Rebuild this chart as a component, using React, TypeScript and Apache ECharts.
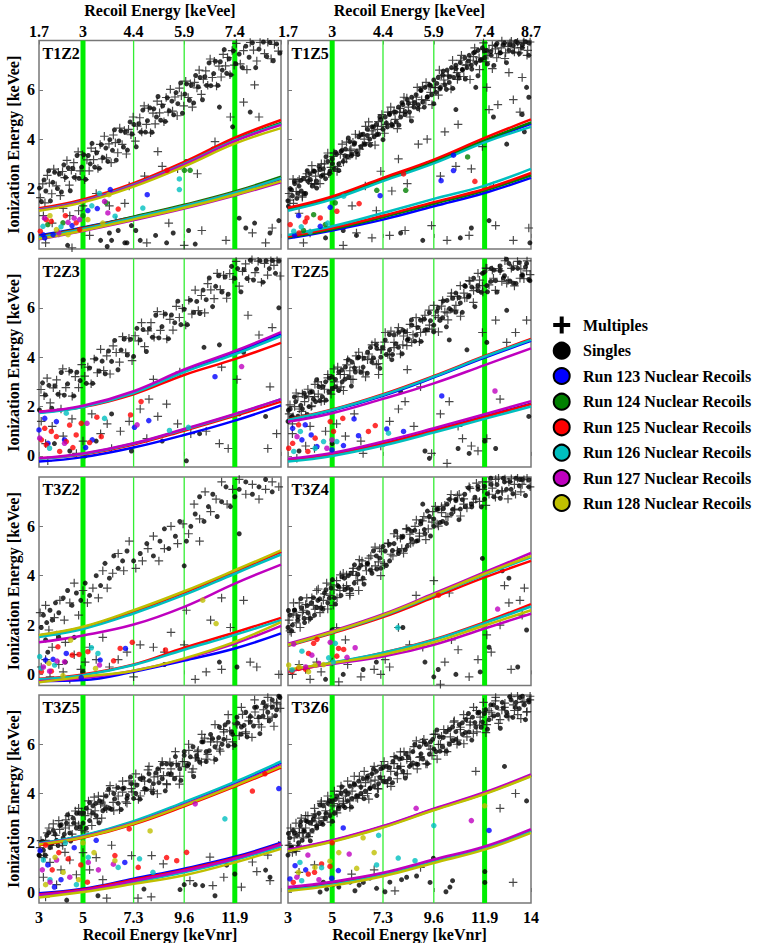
import React, { useEffect, useRef } from "react";
import * as echarts from "echarts";

// ---------- axes / categories ----------
const panelNames = ["T1Z2", "T1Z5", "T2Z3", "T2Z5", "T3Z2", "T3Z4", "T3Z5", "T3Z6"];
const nrTicks = [3, 5, 7.3, 9.6, 11.9, 14];
const eeTickLabels = ["1.7", "3", "4.4", "5.9", "7.4", "8.7"];
const yTicks = [0, 2, 4, 6];
const thickGreenX = [5, 11.9];
const thinGreenX = [7.3, 9.6];
const bandX = [3, 5, 7.3, 9.6, 11.9, 14];
const runs = [123, 124, 125, 126, 127, 128];
const runColors = ["#0000ff", "#008000", "#ff0000", "#00bfbf", "#bf00bf", "#bfbf00"];

// ---------- T1Z2 ----------
const singles_T1Z2 = [[3.02,2.02],[3.11,1.47],[3.23,2.35],[3.31,1.9],[3.44,2.72],[3.52,1.5],[3.63,2.25],[3.71,2.66],[3.84,2.0],[3.93,2.59],[4.02,1.86],[4.13,2.96],[4.21,2.45],[4.33,2.84],[4.42,1.91],[4.54,2.82],[4.61,2.45],[4.73,3.34],[4.82,2.41],[4.94,2.87],[5.03,3.37],[5.12,2.37],[5.24,3.34],[5.33,3.0],[5.41,3.83],[5.53,2.87],[5.62,3.45],[5.74,2.82],[5.83,3.78],[5.91,3.25],[6.04,3.64],[6.13,3.1],[6.22,3.98],[6.34,3.55],[6.43,4.38],[6.51,3.15],[6.63,3.93],[6.72,4.34],[6.84,3.68],[6.93,4.28],[7.02,3.56],[7.14,4.7],[7.23,4.21],[7.31,4.6],[7.42,3.69],[7.54,4.63],[7.63,4.29],[7.72,5.18],[7.84,4.29],[7.93,4.75],[8.04,5.27],[8.13,4.28],[8.22,5.23],[8.34,4.9],[8.41,5.73],[8.53,4.77],[8.62,5.35],[8.74,4.72],[8.83,5.68],[8.92,5.15],[9.04,5.54],[9.12,4.99],[9.23,5.89],[9.31,5.44],[9.44,6.28],[9.52,5.05],[9.63,5.83],[9.71,6.24],[9.84,5.58],[9.93,6.18],[10.03,5.47],[10.12,6.58],[10.24,6.12],[10.32,6.5],[10.43,5.6],[10.54,6.53],[10.62,6.18],[10.73,7.09],[10.81,6.17],[10.94,6.66],[11.02,7.16],[11.13,6.18],[11.24,7.14],[11.33,6.8],[11.42,7.63],[11.53,6.67],[11.64,7.26],[11.72,6.61],[11.83,7.58],[11.94,7.06],[12.1,7.45],[12.25,6.9],[12.4,7.77],[12.55,7.32],[12.7,7.91],[12.85,6.9],[13.0,7.65],[13.2,7.94],[13.35,7.35],[13.5,7.92],[13.65,7.18],[13.8,7.86],[13.95,7.49],[7.0,-0.2],[7.4,0.3],[7.6,-0.1],[7.2,0.5],[8.3,0.1],[8.8,-0.2],[9.1,0.2],[9.8,0.3],[10.1,-0.25],[12.1,0.8],[12.4,0.4],[12.8,0.6],[13.5,0.2],[13.9,0.7],[5.8,-0.1],[6.2,0.2],[4.3,-0.3],[3.4,0.1],[11.2,5.3],[11.8,4.5],[12.6,5.1],[10.9,3.6],[9.7,3.1],[6.6,0.3],[6.1,-0.35],[6.9,-0.2],[6.3,-0.1]];
const multiples_T1Z2 = [[3.06,1.63],[3.17,2.19],[3.27,1.42],[3.38,2.53],[3.47,2.22],[3.58,1.79],[3.67,2.79],[3.78,2.11],[3.88,2.66],[3.97,1.71],[4.07,2.69],[4.17,2.44],[4.27,3.14],[4.38,2.14],[4.47,2.74],[4.58,3.05],[4.67,2.46],[4.78,3.49],[4.87,2.72],[4.98,3.37],[5.07,2.36],[5.18,3.16],[5.28,2.72],[5.37,3.64],[5.48,3.17],[5.57,3.51],[5.68,2.81],[5.78,3.79],[5.87,3.2],[5.97,4.12],[6.07,3.24],[6.18,3.81],[6.28,3.05],[6.38,4.17],[6.47,3.86],[6.58,3.45],[6.67,4.45],[6.78,3.79],[6.88,4.35],[6.97,3.4],[7.07,4.4],[7.18,4.18],[7.28,4.9],[7.38,3.92],[7.47,4.53],[7.58,4.87],[7.67,4.29],[7.78,5.35],[7.88,4.6],[7.97,5.26],[8.07,4.26],[8.18,5.06],[8.28,4.62],[8.37,5.54],[8.48,5.07],[8.57,5.41],[8.68,4.71],[8.78,5.69],[8.87,5.1],[8.97,6.02],[9.07,5.14],[9.18,5.71],[9.28,4.95],[9.38,6.07],[9.47,5.76],[9.58,5.35],[9.67,6.35],[9.78,5.69],[9.88,6.25],[9.97,5.3],[10.07,6.3],[10.18,6.08],[10.28,6.8],[10.38,5.82],[10.47,6.43],[10.58,6.77],[10.67,6.19],[10.78,7.25],[10.88,6.5],[10.97,7.16],[11.07,6.16],[11.18,6.96],[11.28,6.52],[11.37,7.44],[11.48,6.97],[11.57,7.31],[11.68,6.61],[11.78,7.59],[11.87,7.0],[11.97,7.88],[12.15,7.05],[12.3,7.59],[12.45,6.82],[12.6,7.92],[12.75,7.61],[12.9,7.17],[13.05,7.92],[13.25,7.47],[13.4,7.93],[13.55,7.26],[13.7,7.84],[13.88,7.57],[4.8,1.1],[5.6,1.8],[6.2,1.3],[7.1,2.1],[7.8,2.5],[8.6,2.9],[9.3,2.8],[10.2,2.6],[11.0,3.9],[11.7,4.9],[12.3,5.5],[13.0,4.9],[12.8,6.2],[8.4,3.5],[6.5,0.7],[7.9,-0.2],[8.9,0.6],[10.4,0.3],[11.5,-0.1],[12.7,0.2],[13.3,-0.2],[13.6,0.4],[4.5,-0.4],[5.3,0.1],[9.6,-0.3],[6.9,1.4],[3.2,0.9],[3.6,0.6],[4.1,1.2],[5.0,1.3],[3.3,-0.2],[3.9,0.2],[4.4,0.9]];
const nr_T1Z2 = {
  123: [[6.24,1.96],[5.65,1.19],[5.22,1.11],[7.92,1.75],[3.64,0.13],[3.18,0.13],[3.26,0.0],[4.5,0.5]],
  124: [[9.61,2.74],[9.87,2.74],[6.06,1.42],[3.4,0.54],[4.09,0.61],[5.0,0.9]],
  125: [[6.6,1.17],[8.82,2.74],[3.33,0.74],[3.56,0.67],[4.69,0.61],[4.85,0.34],[3.06,0.27],[4.2,0.9]],
  126: [[9.38,2.39],[9.38,1.96],[7.72,1.21],[6.46,0.88],[5.75,1.8],[3.18,0.47],[4.0,0.45],[5.4,1.3]],
  127: [[5.98,1.48],[6.13,1.01],[3.25,0.8],[4.32,0.63],[4.85,0.74],[4.6,0.8],[3.9,0.2]],
  128: [[6.18,1.75],[3.79,0.34],[4.32,0.13],[5.22,0.74],[3.5,0.9],[5.9,0.6]],
};
const upper_T1Z2 = {
  123: [1.15,1.5,2.15,3.0,3.95,4.62], 124: [1.16,1.52,2.17,3.02,3.98,4.66], 125: [1.2,1.56,2.22,3.08,4.06,4.78],
  126: [1.15,1.5,2.16,3.0,3.95,4.62], 127: [1.13,1.48,2.13,2.97,3.92,4.58], 128: [1.1,1.44,2.08,2.9,3.82,4.45],
};
const lower_T1Z2 = {
  123: [0.1,0.42,0.85,1.3,1.82,2.38], 124: [0.06,0.4,0.86,1.34,1.88,2.48], 125: [0.04,0.38,0.83,1.3,1.84,2.42],
  126: [0.02,0.36,0.82,1.29,1.83,2.42], 127: [-0.06,0.28,0.72,1.19,1.72,2.25], 128: [-0.04,0.3,0.75,1.22,1.75,2.3],
};

// ---------- T1Z5 ----------
const singles_T1Z5 = [[3.0,1.5],[3.1,2.0],[3.2,1.7],[3.3,2.2],[3.4,1.6],[3.5,2.1],[3.6,1.9],[3.7,2.4],[3.8,1.8],[3.9,2.3],[4.0,2.6],[4.1,2.1],[4.2,2.7],[4.3,2.3],[4.4,2.9],[4.5,2.5],[4.6,2.8],[4.7,2.4],[4.8,3.1],[4.9,2.7],[5.0,3.2],[5.1,2.8],[5.2,3.4],[5.3,3.0],[5.4,3.5],[5.5,3.1],[5.6,3.6],[5.7,3.3],[5.8,3.9],[5.9,3.4],[6.0,3.8],[6.1,3.5],[6.2,4.1],[6.3,3.7],[6.4,4.2],[6.5,3.8],[6.6,4.4],[6.7,4.0],[6.8,4.5],[6.9,4.1],[7.0,4.6],[7.1,4.2],[7.2,4.8],[7.3,4.4],[7.4,4.9],[7.5,4.5],[7.6,5.0],[7.7,4.6],[7.8,5.1],[7.9,4.7],[8.0,5.3],[8.1,4.9],[8.2,5.4],[8.3,5.0],[8.4,5.6],[8.5,5.1],[8.6,5.7],[8.7,5.3],[8.8,5.8],[8.9,5.4],[9.0,6.0],[9.1,5.5],[9.2,6.1],[9.3,5.7],[9.4,6.2],[9.5,5.8],[9.6,6.4],[9.7,5.9],[9.8,6.5],[9.9,6.1],[10.0,6.6],[10.1,6.2],[10.2,6.8],[10.3,6.3],[10.4,6.9],[10.5,6.5],[10.6,7.0],[10.7,6.6],[10.8,7.1],[10.9,6.8],[11.0,7.3],[11.1,6.9],[11.2,7.4],[11.3,7.0],[11.4,7.5],[11.5,7.1],[11.6,7.6],[11.7,7.2],[11.8,7.7],[11.9,7.3],[12.0,7.6],[12.2,7.4],[12.4,7.8],[12.6,7.5],[12.8,7.9],[13.0,7.6],[13.2,7.8],[13.4,7.9],[13.6,7.7],[13.9,7.9],[11.5,6.1],[13.9,5.7],[13.6,5.0],[12.3,4.9],[10.6,5.2],[13.7,4.3],[11.3,0.4],[12.1,0.7],[13.95,-0.2],[6.1,0.1],[4.7,0.0],[8.1,0.2],[5.5,0.3],[9.1,-0.1],[10.8,0.0],[13.8,6.1],[12.9,3.8],[9.3,3.0]];
const singles_T1Z5_b = [[3.02,1.28],[3.16,1.94],[3.29,2.3],[3.45,1.81],[3.58,2.33],[3.73,1.8],[3.87,2.72],[4.01,2.37],[4.15,2.71],[4.3,2.02],[4.44,2.78],[4.58,2.55],[4.72,3.29],[4.87,2.6],[5.01,3.01],[5.15,3.47],[5.3,2.73],[5.44,3.55],[5.58,3.33],[5.73,4.05],[5.87,3.33],[6.01,3.85],[6.16,3.38],[6.3,4.18],[6.44,3.8],[6.59,4.15],[6.73,3.76],[6.87,4.5],[7.02,4.19],[7.16,4.91],[7.3,3.98],[7.45,4.66],[7.59,5.04],[7.73,4.55],[7.88,5.1],[8.02,4.57],[8.16,5.48],[8.31,5.12],[8.45,5.45],[8.59,4.74],[8.74,5.49],[8.88,5.24],[9.02,5.97],[9.17,5.3],[9.31,5.72],[9.45,6.18],[9.6,5.44],[9.74,6.26],[9.88,6.04],[10.03,6.76],[10.17,6.02],[10.31,6.53],[10.46,6.06],[10.6,6.86],[10.74,6.48],[10.89,6.83],[11.03,6.44],[11.17,7.17],[11.32,6.84],[11.46,7.53],[11.6,6.57],[11.75,7.22],[11.89,7.58],[12.03,7.05],[12.18,7.55],[12.32,6.99],[12.46,7.88],[12.61,7.5],[12.75,7.82],[12.89,7.1],[13.04,7.83],[13.18,7.54],[13.32,7.96],[13.47,7.47],[13.61,7.82],[13.75,7.95],[13.9,7.4]];
const multiples_T1Z5 = [[3.05,1.8],[3.25,1.4],[3.45,2.3],[3.65,1.7],[3.85,2.6],[4.05,2.2],[4.25,2.5],[4.45,2.2],[4.65,3.0],[4.85,2.6],[5.05,3.3],[5.25,2.9],[5.45,3.8],[5.65,3.2],[5.85,3.6],[6.05,4.2],[6.25,3.6],[6.45,4.0],[6.65,4.7],[6.85,4.2],[7.05,4.4],[7.25,5.0],[7.45,4.6],[7.65,5.3],[7.85,4.8],[8.05,5.1],[8.25,5.7],[8.45,5.3],[8.65,5.5],[8.85,6.1],[9.05,5.6],[9.25,6.3],[9.45,5.9],[9.65,6.1],[9.85,6.8],[10.05,6.4],[10.25,6.6],[10.45,7.2],[10.65,6.7],[10.85,7.4],[11.05,7.0],[11.25,7.2],[11.45,7.7],[11.65,7.3],[11.85,7.9],[12.05,7.4],[12.25,7.8],[12.45,7.3],[12.65,7.7],[12.85,7.5],[13.05,7.9],[13.25,7.7],[13.45,7.5],[13.65,7.9],[13.85,7.6],[10.1,4.3],[10.7,4.6],[9.3,4.0],[12.1,5.2],[12.5,5.4],[13.2,5.6],[13.5,5.1],[12.0,6.1],[13.0,6.7],[13.6,6.5],[11.8,3.7],[10.6,2.9],[9.9,2.5],[8.4,2.2],[7.7,1.9],[7.2,2.7],[6.5,2.1],[4.2,2.2],[3.5,1.0],[8.9,3.8],[11.3,2.8],[12.3,2.1],[6.8,0.0],[7.6,0.1],[8.3,0.3],[9.5,0.5],[10.2,-0.1],[11.2,0.1],[12.4,0.5],[13.9,0.4],[5.5,-0.3],[6.1,0.2],[4.0,0.2],[3.7,-0.2],[13.2,-0.1],[5.9,1.3],[7.0,1.1],[8.0,3.2]];
const multiples_T1Z5_b = [[3.09,1.53],[3.23,2.38],[3.37,1.88],[3.51,2.37],[3.65,1.65],[3.8,2.48],[3.94,2.32],[4.08,2.93],[4.22,2.17],[4.37,2.7],[4.51,3.0],[4.65,2.57],[4.8,3.44],[4.94,2.86],[5.08,3.44],[5.22,2.69],[5.37,3.38],[5.51,3.08],[5.65,3.88],[5.8,3.54],[5.94,3.88],[6.08,3.35],[6.23,4.18],[6.37,3.74],[6.51,4.52],[6.66,3.86],[6.8,4.34],[6.94,3.76],[7.09,4.71],[7.23,4.52],[7.37,4.24],[7.52,5.1],[7.66,4.62],[7.8,5.12],[7.95,4.43],[8.09,5.25],[8.23,5.08],[8.38,5.67],[8.52,4.9],[8.66,5.41],[8.81,5.7],[8.95,5.26],[9.09,6.12],[9.24,5.57],[9.38,6.15],[9.52,5.4],[9.67,6.09],[9.81,5.79],[9.95,6.59],[10.1,6.24],[10.24,6.56],[10.38,6.03],[10.53,6.86],[10.67,6.42],[10.81,7.2],[10.96,6.54],[11.1,7.01],[11.24,6.42],[11.39,7.35],[11.53,7.13],[11.67,6.82],[11.82,7.65],[11.96,7.14],[12.1,7.6],[12.25,6.86],[12.39,7.66],[12.53,7.47],[12.68,7.98],[12.82,7.27],[12.96,7.76],[13.11,7.97],[13.25,7.53],[13.39,7.93],[13.54,7.71],[13.68,7.94],[13.82,7.4],[13.96,7.94]];
const nr_T1Z5 = {
  123: [[4.91,1.24],[7.17,1.71],[10.49,2.73],[10.49,3.35],[9.93,2.32],[3.48,0.9],[4.46,0.47],[3.3,0.1]],
  124: [[7.02,1.93],[8.33,1.93],[11.13,3.28],[5.14,1.42],[4.16,0.94],[4.69,0.54],[3.7,0.3]],
  125: [[6.22,1.39],[5.21,1.08],[8.23,2.59],[11.46,2.29],[3.86,0.81],[3.78,0.65],[3.1,0.54],[4.46,0.81],[3.5,0.2]],
  126: [[5.52,1.69],[3.26,0.27],[4.0,0.24],[3.6,0.45],[4.8,0.6]],
};
const upper_T1Z5 = {
  123: [1.14,1.6,2.34,3.06,3.92,4.62], 124: [1.17,1.63,2.37,3.1,3.96,4.68],
  125: [1.22,1.68,2.43,3.17,4.05,4.8], 126: [1.1,1.56,2.3,3.02,3.87,4.5],
};
const lower_T1Z5 = {
  123: [-0.02,0.3,0.74,1.28,1.82,2.43], 124: [0.02,0.35,0.84,1.38,1.92,2.54],
  125: [0.06,0.4,0.9,1.45,1.98,2.63], 126: [0.12,0.47,1.01,1.58,2.12,2.8],
};

// ---------- T2Z3 ----------
const singles_T2Z3 = [[3.02,1.86],[3.16,2.96],[3.29,2.47],[3.45,2.86],[3.58,1.93],[3.73,2.84],[3.87,2.5],[4.01,3.38],[4.15,2.46],[4.3,2.92],[4.44,3.43],[4.58,2.43],[4.72,3.39],[4.87,3.05],[5.01,3.89],[5.15,2.94],[5.3,3.56],[5.44,2.94],[5.58,3.93],[5.73,3.44],[5.87,3.84],[6.01,3.33],[6.16,4.25],[6.3,3.83],[6.44,4.68],[6.59,3.49],[6.73,4.29],[6.87,4.73],[7.02,4.09],[7.16,4.72],[7.3,4.03],[7.45,5.17],[7.59,4.7],[7.73,5.12],[7.88,4.23],[8.02,5.16],[8.16,4.81],[8.31,5.7],[8.45,4.78],[8.59,5.24],[8.74,5.75],[8.88,4.75],[9.02,5.71],[9.17,5.4],[9.31,6.27],[9.45,5.32],[9.6,5.94],[9.74,5.32],[9.88,6.31],[10.03,5.82],[10.17,6.26],[10.31,5.77],[10.46,6.72],[10.6,6.33],[10.74,7.21],[10.89,6.05],[11.03,6.87],[11.17,7.3],[11.32,6.64],[11.46,7.25],[11.6,6.55],[11.75,7.68],[11.89,7.2],[12.03,7.59],[12.18,6.65],[12.32,7.55],[12.46,7.19],[12.61,7.93],[12.75,7.13],[12.89,7.57],[13.04,7.91],[13.18,7.04],[13.32,7.91],[13.47,7.59],[13.61,7.92],[13.75,7.4],[13.9,7.9],[3.7,0.5],[4.4,0.2],[5.1,0.0],[5.6,0.6],[6.3,1.7],[9.7,-0.2],[10.3,0.9],[13.3,1.6],[13.9,6.0],[12.3,4.2],[11.2,4.5],[10.5,4.4],[7.2,0.2],[8.6,0.6],[12.1,1.7]];
const multiples_T2Z3 = [[3.09,2.69],[3.23,2.44],[3.37,3.15],[3.51,2.15],[3.65,2.76],[3.8,3.08],[3.94,2.5],[4.08,3.53],[4.22,2.77],[4.37,3.43],[4.51,2.42],[4.65,3.21],[4.8,2.77],[4.94,3.7],[5.08,3.23],[5.22,3.6],[5.37,2.92],[5.51,3.93],[5.65,3.37],[5.8,4.32],[5.94,3.46],[6.08,4.05],[6.23,3.32],[6.37,4.46],[6.51,4.19],[6.66,3.8],[6.8,4.83],[6.94,4.18],[7.09,4.77],[7.23,3.86],[7.37,4.87],[7.52,4.66],[7.66,5.4],[7.8,4.43],[7.95,5.07],[8.09,5.4],[8.23,4.81],[8.38,5.85],[8.52,5.09],[8.66,5.74],[8.81,4.74],[8.95,5.53],[9.09,5.1],[9.24,6.06],[9.38,5.61],[9.52,5.98],[9.67,5.3],[9.81,6.31],[9.95,5.75],[10.1,6.72],[10.24,5.89],[10.38,6.5],[10.53,5.8],[10.67,6.98],[10.81,6.73],[10.96,6.37],[11.1,7.4],[11.24,6.74],[11.39,7.32],[11.53,6.39],[11.67,7.39],[11.82,7.16],[11.96,7.88],[12.1,6.88],[12.25,7.48],[12.39,7.78],[12.53,7.18],[12.68,7.95],[12.82,7.43],[12.96,7.89],[13.11,7.04],[13.25,7.8],[13.39,7.33],[13.54,7.91],[13.68,7.72],[13.82,7.91],[13.96,7.29],[3.3,0.5],[3.6,1.2],[4.1,0.8],[4.5,1.5],[5.4,1.7],[5.8,0.9],[6.1,1.3],[6.3,0.3],[6.7,1.0],[7.1,1.4],[7.6,1.9],[8.0,2.3],[8.4,1.6],[8.8,2.1],[9.3,1.3],[9.9,0.9],[10.6,1.0],[11.2,0.5],[11.6,0.3],[13.4,0.3],[13.8,0.9],[12.0,3.1],[13.5,2.8],[11.3,3.6],[9.4,3.4],[8.2,3.1],[13.0,4.9],[13.6,5.2],[12.5,5.7],[4.0,1.9],[3.1,1.4],[5.0,0.6],[7.9,0.7],[3.4,-0.2],[4.7,0.1]];
const nr_T2Z3 = {
  123: [[11.0,3.21],[7.99,1.43],[7.34,1.16],[5.42,0.65],[5.12,0.34],[3.79,1.39],[3.0,1.05],[3.41,0.51],[4.16,0.65],[3.26,1.52]],
  125: [[7.64,2.2],[7.16,1.66],[5.63,1.57],[5.83,0.78],[5.3,0.54],[4.69,0.85],[4.39,1.25],[4.24,0.58],[3.79,0.78],[3.33,0.45],[3.11,0.65],[3.26,1.12],[3.56,0.99],[3.94,0.18],[4.54,0.34],[4.92,1.32]],
  126: [[8.93,1.03],[9.79,1.16],[5.98,1.52],[3.48,0.31],[4.24,1.73]],
  127: [[12.21,3.62],[7.46,1.26],[5.18,1.32],[4.16,0.51],[3.03,0.72]],
};
const upper_T2Z3 = {
  123: [1.76,2.0,2.58,3.44,4.18,4.93], 125: [1.8,1.98,2.5,3.28,3.92,4.58],
  126: [1.74,1.98,2.55,3.4,4.12,4.86], 127: [1.78,2.03,2.62,3.5,4.25,5.02],
};
const lower_T2Z3 = {
  123: [-0.23,-0.05,0.34,0.85,1.43,2.05], 125: [-0.1,0.06,0.46,1.02,1.62,2.2],
  126: [-0.12,0.08,0.5,1.07,1.68,2.3], 127: [-0.1,0.1,0.51,1.09,1.7,2.3],
};

// ---------- T2Z5 ----------
const singles_T2Z5 = [[3.0,1.4],[3.1,1.9],[3.2,1.6],[3.35,2.2],[3.5,1.5],[3.65,1.9],[3.8,2.4],[3.95,2.0],[4.1,2.6],[4.25,2.2],[4.4,2.8],[4.55,2.4],[4.7,3.0],[4.85,2.6],[5.0,3.2],[5.15,2.8],[5.3,3.4],[5.45,3.0],[5.6,3.6],[5.75,3.2],[5.9,3.8],[6.05,3.4],[6.2,4.0],[6.4,3.6],[6.6,4.2],[6.8,3.8],[7.0,4.5],[7.2,4.0],[7.4,4.7],[7.6,4.3],[7.8,4.9],[8.0,4.4],[8.2,5.1],[8.4,4.7],[8.6,5.3],[8.8,4.9],[9.0,5.5],[9.2,5.1],[9.4,5.8],[9.6,5.3],[9.8,6.0],[10.0,5.6],[10.2,6.3],[10.4,5.9],[10.6,6.6],[10.8,6.2],[11.0,6.9],[11.2,6.5],[11.4,7.2],[11.6,6.7],[11.8,7.4],[12.0,6.9],[12.2,7.6],[12.4,7.1],[12.6,7.7],[12.8,7.3],[13.0,7.8],[13.2,7.0],[13.4,7.6],[13.6,7.3],[13.8,7.8],[13.95,7.1],[9.2,0.2],[9.4,-0.1],[10.7,0.3],[11.2,0.1],[12.4,0.3],[11.9,0.6],[13.9,1.6],[12.0,4.6],[11.1,4.3],[8.1,2.6],[7.7,3.9],[3.5,0.2],[5.0,0.5],[10.3,4.7],[12.9,5.9]];
const singles_T2Z5_b = [[3.02,1.85],[3.16,1.58],[3.29,2.39],[3.45,1.61],[3.58,2.05],[3.73,2.54],[3.87,1.68],[4.01,2.58],[4.15,2.3],[4.3,3.09],[4.44,2.24],[4.58,2.81],[4.72,2.26],[4.87,3.16],[5.01,2.73],[5.15,3.1],[5.3,2.65],[5.44,3.48],[5.58,3.11],[5.73,3.9],[5.87,2.83],[6.01,3.56],[6.16,3.97],[6.3,3.39],[6.44,3.96],[6.59,3.35],[6.73,4.39],[6.87,3.97],[7.02,4.36],[7.16,3.55],[7.3,4.39],[7.45,4.11],[7.59,4.92],[7.73,4.11],[7.88,4.54],[8.02,5.01],[8.16,4.14],[8.31,5.03],[8.45,4.74],[8.59,5.51],[8.74,4.65],[8.88,5.2],[9.02,4.64],[9.17,5.54],[9.31,5.11],[9.45,5.48],[9.6,5.03],[9.74,5.86],[9.88,5.49],[10.03,6.28],[10.17,5.23],[10.31,5.97],[10.46,6.39],[10.6,5.83],[10.74,6.42],[10.89,5.82],[11.03,6.87],[11.17,6.45],[11.32,6.84],[11.46,6.05],[11.6,6.9],[11.75,6.63],[11.89,7.45],[12.03,6.65],[12.18,7.07],[12.32,7.53],[12.46,6.64],[12.61,7.51],[12.75,7.21],[12.89,7.97],[13.04,7.09],[13.18,7.6],[13.32,6.99],[13.47,7.83],[13.61,7.34],[13.75,7.66],[13.9,7.15]];
const multiples_T2Z5 = [[3.05,1.7],[3.2,1.3],[3.3,2.0],[3.45,2.4],[3.6,1.8],[3.75,2.2],[3.9,2.7],[4.05,2.0],[4.2,2.4],[4.35,3.0],[4.5,2.2],[4.65,2.7],[4.8,3.3],[4.95,2.5],[5.1,3.0],[5.25,3.6],[5.4,2.8],[5.55,3.3],[5.7,3.9],[5.85,3.1],[6.0,3.6],[6.2,4.2],[6.4,3.4],[6.6,3.9],[6.8,4.5],[7.0,3.7],[7.2,4.3],[7.4,5.0],[7.6,4.1],[7.8,4.6],[8.0,5.2],[8.2,4.5],[8.4,5.0],[8.6,4.6],[8.8,5.6],[9.0,5.0],[9.2,5.7],[9.4,5.3],[9.6,6.1],[9.8,5.6],[10.0,6.3],[10.2,5.8],[10.4,6.6],[10.6,6.1],[10.8,6.9],[11.0,6.4],[11.2,7.1],[11.4,6.7],[11.6,7.4],[11.8,6.9],[12.0,7.6],[12.3,7.2],[12.6,7.5],[12.9,7.0],[13.2,7.7],[13.5,7.2],[13.8,7.5],[4.2,0.3],[4.7,1.0],[5.2,1.3],[5.6,0.8],[6.0,1.7],[6.3,0.6],[7.2,0.4],[7.6,1.4],[8.0,1.9],[8.3,2.2],[8.7,1.2],[9.0,2.8],[9.9,1.7],[10.3,2.2],[10.7,1.2],[10.9,0.7],[11.3,0.4],[11.6,0.2],[12.6,2.3],[12.9,4.6],[13.3,5.0],[12.4,5.5],[13.8,5.5],[11.8,5.0],[7.1,3.3],[8.4,3.5],[9.5,0.1],[10.2,-0.3],[12.0,0.7],[3.4,-0.1],[3.8,0.4],[6.4,0.1],[3.2,0.9],[4.0,1.2]];
const multiples_T2Z5_b = [[3.09,2.07],[3.23,1.59],[3.37,2.55],[3.51,1.9],[3.65,2.52],[3.8,1.66],[3.94,2.4],[4.08,2.03],[4.22,2.9],[4.37,2.5],[4.51,2.85],[4.65,2.24],[4.8,3.16],[4.94,2.66],[5.08,3.53],[5.22,2.76],[5.37,3.3],[5.51,2.65],[5.65,3.69],[5.8,3.45],[5.94,3.1],[6.08,4.05],[6.23,3.48],[6.37,4.01],[6.51,3.2],[6.66,4.13],[6.8,3.93],[6.94,4.6],[7.09,3.74],[7.23,4.31],[7.37,4.61],[7.52,4.11],[7.66,5.06],[7.8,4.39],[7.95,5.01],[8.09,4.13],[8.23,4.86],[8.38,4.47],[8.52,5.33],[8.66,4.91],[8.81,5.25],[8.95,4.63],[9.09,5.53],[9.24,5.04],[9.38,5.91],[9.52,5.14],[9.67,5.68],[9.81,5.03],[9.95,6.07],[10.1,5.84],[10.24,5.51],[10.38,6.47],[10.53,5.91],[10.67,6.46],[10.81,5.66],[10.96,6.6],[11.1,6.41],[11.24,7.08],[11.39,6.22],[11.53,6.81],[11.67,7.12],[11.82,6.64],[11.96,7.61],[12.1,6.93],[12.25,7.53],[12.39,6.71],[12.53,7.59],[12.68,7.07],[12.82,7.91],[12.96,7.11],[13.11,7.6],[13.25,6.89],[13.39,7.88],[13.54,7.58],[13.68,7.18],[13.82,7.9],[13.96,7.35]];
const nr_T2Z5 = {
  123: [[9.96,2.43],[8.23,0.99],[7.47,1.09],[6.19,0.82],[5.99,1.5],[5.51,0.42],[4.99,0.24],[4.05,0.85],[3.78,1.26],[3.21,1.12],[4.31,0.38],[3.63,0.65]],
  125: [[5.48,1.52],[4.91,1.39],[6.64,0.99],[6.95,1.23],[5.06,0.99],[3.9,0.18],[4.23,0.72],[3.21,0.51],[3.03,0.31],[3.48,1.26]],
  126: [[7.55,0.92],[4.61,0.58],[3.56,0.99],[4.23,0.31],[3.26,0.18],[5.21,0.58]],
  127: [[12.37,2.63],[4.99,0.65],[3.41,0.78],[4.76,0.31]],
};
const upper_T2Z5 = {
  123: [1.44,1.84,2.44,3.18,3.98,4.66], 125: [1.48,1.88,2.5,3.24,4.05,4.74],
  126: [1.46,1.86,2.47,3.21,4.02,4.7], 127: [1.38,1.73,2.31,2.94,3.68,4.36],
};
const lower_T2Z5 = {
  123: [-0.18,0.06,0.5,1.04,1.6,2.12], 125: [-0.17,0.05,0.48,1.02,1.58,2.1],
  126: [-0.23,0.0,0.42,0.95,1.5,2.0], 127: [-0.12,0.12,0.58,1.12,1.69,2.22],
};

// ---------- T3Z2 ----------
const singles_T3Z2 = [[3.1,1.9],[3.2,2.4],[3.35,2.1],[3.5,2.6],[3.6,2.2],[3.75,2.9],[3.9,2.5],[4.1,3.1],[4.3,3.4],[4.5,2.8],[4.7,3.3],[4.9,3.0],[5.1,3.7],[5.3,3.2],[5.6,4.0],[5.8,3.6],[6.0,4.5],[6.2,3.9],[6.4,4.8],[6.6,4.3],[6.8,4.6],[7.0,5.0],[7.3,4.6],[7.6,4.9],[7.9,5.3],[8.2,4.8],[8.5,5.4],[8.7,5.9],[8.9,5.1],[9.2,5.6],[9.4,6.2],[9.7,5.4],[9.9,6.0],[10.1,6.5],[10.3,7.2],[10.5,6.2],[10.7,6.8],[10.9,7.3],[11.1,6.4],[11.3,7.0],[11.5,7.6],[11.7,6.8],[11.9,7.2],[12.1,7.5],[12.4,7.8],[12.7,7.3],[13.0,7.6],[13.3,7.9],[13.6,7.4],[11.2,0.5],[12.0,0.3],[8.7,0.4],[3.4,0.9],[3.9,1.5],[4.6,1.5],[5.0,0.1],[9.6,4.4],[12.1,5.7],[3.3,1.4],[4.2,0.5]];
const multiples_T3Z2 = [[3.05,2.5],[3.3,2.8],[3.45,1.8],[3.7,2.3],[3.95,3.0],[4.15,2.2],[4.4,2.9],[4.6,3.7],[4.8,2.4],[5.0,3.4],[5.2,2.9],[5.45,3.5],[5.7,3.1],[5.9,4.2],[6.1,3.5],[6.35,4.1],[6.6,4.9],[6.85,4.2],[7.1,5.4],[7.4,4.3],[7.7,4.6],[7.95,5.1],[8.2,5.6],[8.45,4.6],[8.7,5.1],[9.0,6.0],[9.3,5.3],[9.55,6.1],[9.8,5.7],[10.05,6.9],[10.3,6.3],[10.55,7.4],[10.8,6.6],[11.05,7.1],[11.3,7.8],[11.55,6.9],[11.8,7.5],[12.1,7.9],[12.4,7.3],[12.7,7.7],[13.0,7.1],[13.3,7.5],[13.6,7.8],[13.9,7.6],[3.3,0.6],[3.6,1.1],[3.9,0.4],[4.2,1.3],[4.6,0.8],[4.9,0.2],[5.3,1.1],[5.6,0.6],[5.9,1.5],[6.2,0.3],[6.6,0.6],[7.0,0.9],[7.3,-0.1],[8.2,1.1],[8.7,0.9],[9.6,1.2],[10.1,-0.2],[10.6,0.1],[11.3,0.2],[11.7,1.9],[12.6,0.5],[12.9,0.3],[13.9,0.0],[9.7,2.6],[10.8,2.2],[10.3,5.4],[11.3,3.1],[12.3,3.0],[9.0,1.7],[7.6,1.2],[3.1,0.3],[3.5,-0.1],[4.4,-0.2],[5.1,0.5],[3.8,1.6],[4.1,0.1]];
const nr_T3Z2 = {
  123: [[6.93,1.05],[4.24,0.85],[3.64,0.61],[3.3,0.58],[4.92,-0.13],[5.78,0.58]],
  125: [[6.69,1.05],[7.24,1.3],[6.39,0.55],[8.75,0.99],[5.22,0.92],[4.51,0.78],[4.82,0.81],[3.86,1.12],[3.11,0.11],[3.56,0.13]],
  126: [[5.68,0.85],[5.38,1.08],[3.03,0.72],[3.71,0.38],[3.1,0.25]],
  127: [[5.75,0.38],[4.16,0.51],[3.82,0.54],[3.48,0.13],[3.2,0.3]],
  128: [[10.44,3.01],[11.05,2.06],[4.44,1.39],[4.09,-0.05],[5.57,0.24],[3.45,0.45]],
};
const upper_T3Z2 = {
  123: [1.58,1.9,2.56,3.33,4.18,4.98], 125: [1.57,1.9,2.55,3.32,4.17,4.97], 126: [1.52,1.84,2.47,3.22,4.08,4.86],
  127: [1.3,1.58,2.02,2.74,3.68,4.45], 128: [1.6,1.93,2.6,3.37,4.22,5.03],
};
const lower_T3Z2 = {
  123: [-0.27,-0.23,0.11,0.56,1.05,1.66], 125: [-0.18,0.0,0.4,1.08,1.7,2.29], 126: [-0.2,-0.03,0.38,1.0,1.6,2.2],
  127: [-0.28,-0.15,0.15,0.62,1.25,1.97], 128: [-0.32,-0.1,0.15,0.65,1.32,2.12],
};

// ---------- T3Z4 ----------
const singles_T3Z4 = [[3.0,1.9],[3.1,2.4],[3.2,2.0],[3.3,2.6],[3.45,2.2],[3.6,2.7],[3.75,2.1],[3.9,2.5],[4.05,2.9],[4.2,2.4],[4.35,3.0],[4.5,2.7],[4.65,3.3],[4.8,2.9],[4.95,3.5],[5.1,3.1],[5.25,3.6],[5.4,3.2],[5.55,3.9],[5.7,3.5],[5.85,4.1],[6.0,3.7],[6.2,4.3],[6.4,3.9],[6.6,4.5],[6.8,4.1],[7.0,4.8],[7.2,4.3],[7.4,5.0],[7.6,4.6],[7.8,5.3],[8.0,4.9],[8.2,5.6],[8.4,5.2],[8.6,5.8],[8.8,5.4],[9.0,6.1],[9.2,5.7],[9.4,6.4],[9.6,6.0],[9.8,6.7],[10.0,6.2],[10.2,6.9],[10.4,6.5],[10.6,7.1],[10.8,6.7],[11.0,7.3],[11.3,6.9],[11.6,7.5],[11.9,7.1],[12.2,7.7],[12.5,7.4],[12.8,7.8],[13.1,7.5],[13.5,7.9],[13.9,7.6],[8.2,1.9],[9.6,-0.1],[6.4,0.2],[7.0,0.5],[9.2,0.5],[9.8,0.2],[10.6,0.0],[11.7,0.1],[12.1,1.1],[13.4,0.3],[13.8,1.8],[12.7,4.2],[13.0,3.9],[11.8,4.7],[5.0,1.8],[5.5,0.0],[4.7,-0.2],[9.1,6.9]];
const singles_T3Z4_b = [[3.02,2.59],[3.16,1.77],[3.29,2.61],[3.45,2.34],[3.58,3.07],[3.73,2.27],[3.87,2.79],[4.01,2.27],[4.15,3.11],[4.3,2.71],[4.44,3.06],[4.58,2.64],[4.72,3.43],[4.87,3.09],[5.01,3.84],[5.15,2.85],[5.3,3.55],[5.44,3.96],[5.58,3.44],[5.73,4.0],[5.87,3.44],[6.01,4.44],[6.16,4.06],[6.3,4.42],[6.44,3.66],[6.59,4.48],[6.73,4.23],[6.87,5.01],[7.02,4.27],[7.16,4.71],[7.3,5.19],[7.45,4.41],[7.59,5.27],[7.73,5.02],[7.88,5.8],[8.02,5.01],[8.16,5.55],[8.31,5.05],[8.45,5.89],[8.59,5.48],[8.74,5.84],[8.88,5.42],[9.02,6.21],[9.17,5.87],[9.31,6.62],[9.45,5.61],[9.6,6.3],[9.74,6.69],[9.88,6.16],[10.03,6.71],[10.17,6.12],[10.31,7.09],[10.46,6.69],[10.6,7.04],[10.74,6.27],[10.89,7.08],[11.03,6.8],[11.17,7.56],[11.32,6.79],[11.46,7.18],[11.6,7.62],[11.75,6.79],[11.89,7.62],[12.03,7.32],[12.18,7.95],[12.32,7.2],[12.46,7.69],[12.61,7.14],[12.75,7.95],[12.89,7.5],[13.04,7.81],[13.18,7.32],[13.32,7.95],[13.47,7.64],[13.61,7.9],[13.75,7.25],[13.9,7.88]];
const multiples_T3Z4 = [[3.05,2.2],[3.15,1.7],[3.25,2.9],[3.4,2.4],[3.55,1.9],[3.7,2.6],[3.85,3.1],[4.0,2.3],[4.15,2.8],[4.3,3.4],[4.45,2.5],[4.6,3.0],[4.75,3.7],[4.9,3.2],[5.05,2.8],[5.2,3.8],[5.35,3.4],[5.5,4.1],[5.65,3.6],[5.8,3.2],[5.95,4.3],[6.15,3.8],[6.35,4.6],[6.55,4.2],[6.75,4.8],[6.95,4.4],[7.15,5.1],[7.35,4.5],[7.55,5.3],[7.75,4.8],[7.95,5.6],[8.15,5.1],[8.35,5.9],[8.55,5.3],[8.75,6.0],[8.95,5.6],[9.15,6.4],[9.35,5.9],[9.55,6.6],[9.75,6.1],[9.95,6.8],[10.15,6.4],[10.35,7.1],[10.55,6.7],[10.75,7.3],[10.95,6.9],[11.2,7.6],[11.5,7.1],[11.8,7.8],[12.1,7.3],[12.4,7.9],[12.7,7.4],[13.0,7.8],[13.3,7.3],[13.6,7.7],[3.2,0.0],[3.5,0.4],[4.0,-0.2],[4.5,0.1],[5.0,0.5],[5.3,-0.3],[5.7,0.4],[6.3,-0.1],[6.9,0.2],[7.2,0.0],[7.6,0.3],[8.5,1.2],[8.0,1.9],[9.1,1.1],[10.4,1.4],[10.7,1.0],[10.1,0.5],[11.2,-0.1],[11.6,0.6],[12.2,0.9],[12.6,2.0],[12.0,1.6],[13.6,2.4],[13.5,3.0],[13.0,2.9],[12.8,3.6],[13.7,3.5],[9.9,-0.4],[7.2,4.0],[6.2,3.4],[8.8,3.2],[10.3,3.3],[9.6,3.8],[5.6,1.4],[5.2,1.9],[7.4,0.6],[13.1,0.2],[4.3,0.5],[3.8,0.2]];
const multiples_T3Z4_b = [[3.09,1.76],[3.23,2.45],[3.37,2.09],[3.51,2.9],[3.65,2.51],[3.8,2.83],[3.94,2.24],[4.08,3.11],[4.22,2.64],[4.37,3.46],[4.51,2.75],[4.65,3.26],[4.8,2.65],[4.94,3.63],[5.08,3.43],[5.22,3.11],[5.37,4.03],[5.51,3.51],[5.65,4.03],[5.8,3.28],[5.94,4.17],[6.08,4.01],[6.23,4.65],[6.37,3.84],[6.51,4.4],[6.66,4.71],[6.8,4.24],[6.94,5.16],[7.09,4.56],[7.23,4.99],[7.37,4.43],[7.52,5.32],[7.66,4.87],[7.8,5.7],[7.95,5.01],[8.09,5.52],[8.23,4.91],[8.38,5.9],[8.52,5.68],[8.66,5.36],[8.81,6.26],[8.95,5.72],[9.09,6.22],[9.24,5.46],[9.38,6.34],[9.52,6.17],[9.67,6.81],[9.81,6.01],[9.95,6.56],[10.1,6.86],[10.24,6.38],[10.38,7.29],[10.53,6.67],[10.67,7.25],[10.81,6.42],[10.96,7.11],[11.1,6.74],[11.24,7.54],[11.39,6.97],[11.53,7.75],[11.67,7.01],[11.82,7.5],[11.96,6.85],[12.1,7.8],[12.25,7.55],[12.39,7.18],[12.53,7.95],[12.68,7.45],[12.82,7.92],[12.96,7.11],[13.11,7.93],[13.25,7.7],[13.39,7.95],[13.54,7.4],[13.68,7.89],[13.82,7.95],[13.96,7.6]];
const nr_T3Z4 = {
  125: [[4.31,1.42],[4.16,1.26],[5.29,1.05],[5.52,1.01],[3.93,0.85],[5.21,0.74],[9.81,3.21],[3.48,0.24],[3.18,0.11],[3.8,0.2]],
  126: [[3.63,0.94],[7.97,1.9],[5.14,1.26],[4.84,0.67],[3.18,0.18],[5.05,0.5]],
  127: [[12.49,2.65],[6.04,1.08],[4.91,1.3],[4.08,0.78],[5.67,0.69],[4.39,0.45],[3.26,1.23],[3.8,0.3]],
  128: [[3.03,0.38],[4.23,0.38],[4.61,0.4],[3.93,0.11],[3.5,0.3]],
};
const upper_T3Z4 = {
  125: [1.16,1.67,2.32,3.12,3.93,4.6], 126: [1.18,1.7,2.37,3.2,4.04,4.74],
  127: [1.24,1.76,2.44,3.28,4.14,4.92], 128: [1.2,1.72,2.4,3.23,4.08,4.8],
};
const lower_T3Z4 = {
  125: [0.12,0.45,0.88,1.42,2.12,2.85], 126: [0.16,0.48,0.88,1.4,2.08,2.75],
  127: [0.16,0.42,0.72,1.2,1.86,2.46], 128: [0.2,0.46,0.8,1.3,1.98,2.6],
};

// ---------- T3Z5 ----------
const singles_T3Z5 = [[3.0,1.5],[3.1,2.0],[3.2,1.7],[3.35,2.3],[3.5,1.8],[3.65,2.5],[3.8,2.1],[3.95,2.7],[4.1,2.2],[4.25,2.8],[4.4,2.4],[4.55,3.0],[4.7,2.6],[4.85,3.2],[5.0,2.8],[5.15,3.4],[5.3,2.9],[5.45,3.5],[5.6,3.1],[5.75,3.7],[5.9,3.3],[6.05,3.9],[6.2,3.4],[6.4,4.0],[6.6,3.6],[6.8,4.2],[7.0,3.8],[7.2,4.4],[7.4,4.0],[7.6,4.6],[7.8,4.2],[8.0,4.8],[8.2,4.4],[8.4,5.0],[8.6,4.6],[8.8,5.2],[9.0,4.8],[9.2,5.5],[9.4,5.0],[9.6,5.7],[9.8,5.2],[10.0,5.9],[10.2,5.4],[10.4,6.1],[10.6,5.7],[10.8,6.4],[11.0,5.9],[11.2,6.7],[11.4,6.2],[11.6,6.9],[11.8,6.4],[12.0,7.1],[12.2,6.7],[12.4,7.3],[12.6,6.9],[12.8,7.5],[13.0,7.1],[13.2,7.7],[13.4,7.3],[13.6,7.8],[13.8,7.4],[13.95,7.9],[4.26,-0.33],[5.68,-0.15],[7.77,0.12],[9.41,0.1],[10.44,0.26],[11.0,-0.15],[11.9,0.73],[11.53,1.09],[13.3,0.89],[13.5,0.6],[10.1,0.3],[9.6,0.3],[6.4,0.3]];
const singles_T3Z5_b = [[3.02,1.49],[3.16,2.06],[3.29,1.5],[3.45,2.41],[3.58,1.97],[3.73,2.35],[3.87,1.89],[4.01,2.73],[4.15,2.35],[4.3,3.14],[4.44,2.07],[4.58,2.8],[4.72,3.2],[4.87,2.63],[5.01,3.21],[5.15,2.59],[5.3,3.63],[5.44,3.21],[5.58,3.6],[5.73,2.81],[5.87,3.66],[6.01,3.38],[6.16,4.18],[6.3,3.36],[6.44,3.78],[6.59,4.24],[6.73,3.35],[6.87,4.22],[7.02,3.92],[7.16,4.67],[7.3,3.8],[7.45,4.34],[7.59,3.77],[7.73,4.63],[7.88,4.17],[8.02,4.52],[8.16,4.03],[8.31,4.84],[8.45,4.44],[8.59,5.2],[8.74,4.11],[8.88,4.8],[9.02,5.18],[9.17,4.6],[9.31,5.16],[9.45,4.53],[9.6,5.55],[9.74,5.12],[9.88,5.49],[10.03,4.69],[10.17,5.54],[10.31,5.27],[10.46,6.1],[10.6,5.3],[10.74,5.74],[10.89,6.23],[11.03,5.38],[11.17,6.27],[11.32,6.0],[11.46,6.79],[11.6,5.94],[11.75,6.51],[11.89,5.96],[12.03,6.86],[12.18,6.41],[12.32,6.77],[12.46,6.3],[12.61,7.13],[12.75,6.74],[12.89,7.51],[13.04,6.43],[13.18,7.14],[13.32,7.53],[13.47,6.95],[13.61,7.51],[13.75,7.16],[13.9,7.95]];
const multiples_T3Z5 = [[3.05,1.8],[3.2,1.4],[3.3,2.1],[3.45,2.6],[3.6,1.9],[3.75,2.3],[3.9,2.9],[4.05,2.0],[4.2,2.6],[4.35,3.1],[4.5,2.2],[4.65,2.8],[4.8,3.4],[4.95,2.5],[5.1,3.1],[5.25,3.7],[5.4,2.7],[5.55,3.3],[5.7,3.9],[5.85,3.0],[6.0,3.5],[6.2,4.1],[6.4,3.3],[6.6,3.9],[6.8,4.5],[7.0,3.6],[7.2,4.2],[7.4,4.8],[7.6,3.9],[7.8,4.5],[8.0,5.1],[8.2,4.1],[8.4,4.7],[8.6,5.3],[8.8,4.4],[9.0,5.0],[9.2,5.7],[9.4,4.7],[9.6,5.3],[9.8,6.0],[10.0,5.0],[10.2,5.7],[10.4,6.4],[10.6,5.4],[10.8,6.1],[11.0,6.8],[11.2,5.8],[11.4,6.5],[11.6,7.2],[11.8,6.1],[12.0,6.8],[12.2,7.5],[12.4,6.5],[12.6,7.1],[12.8,7.8],[13.0,6.8],[13.2,7.4],[13.4,7.9],[13.6,7.1],[13.8,7.7],[4.18,1.61],[6.08,-0.25],[7.5,-0.25],[12.9,0.83],[13.5,0.46],[9.86,0.46],[8.65,1.14],[7.21,1.48],[8.12,1.48],[10.77,1.42],[12.7,1.22],[10.9,0.26],[3.2,0.6],[3.5,1.2],[3.8,0.3],[4.0,0.9],[4.4,1.3],[4.7,0.7],[5.0,1.6],[5.3,0.9],[5.6,1.4],[5.9,0.5],[6.3,1.9],[3.3,-0.2],[12.2,0.2],[13.9,1.9],[13.4,1.5],[8.1,-0.2],[11.4,0.6]];
const multiples_T3Z5_b = [[3.09,2.09],[3.23,1.49],[3.37,2.4],[3.51,1.91],[3.65,2.77],[3.8,2.01],[3.94,2.54],[4.08,1.89],[4.22,2.93],[4.37,2.69],[4.51,2.35],[4.65,3.29],[4.8,2.72],[4.94,3.25],[5.08,2.44],[5.22,3.36],[5.37,3.17],[5.51,3.85],[5.65,2.98],[5.8,3.57],[5.94,3.88],[6.08,3.38],[6.23,4.32],[6.37,3.64],[6.51,4.23],[6.66,3.34],[6.8,4.06],[6.94,3.66],[7.09,4.51],[7.23,4.07],[7.37,4.39],[7.52,3.76],[7.66,4.64],[7.8,4.12],[7.95,4.96],[8.09,4.17],[8.23,4.67],[8.38,3.99],[8.52,5.01],[8.66,4.73],[8.81,4.36],[8.95,5.28],[9.09,4.69],[9.24,5.21],[9.38,4.38],[9.52,5.29],[9.67,5.09],[9.81,5.75],[9.95,4.87],[10.1,5.45],[10.24,5.76],[10.38,5.28],[10.53,6.25],[10.67,5.59],[10.81,6.22],[10.96,5.36],[11.1,6.1],[11.24,5.72],[11.39,6.6],[11.53,6.2],[11.67,6.54],[11.82,5.94],[11.96,6.86],[12.1,6.35],[12.25,7.21],[12.39,6.43],[12.53,6.95],[12.68,6.28],[12.82,7.31],[12.96,7.05],[13.11,6.7],[13.25,7.63],[13.39,7.04],[13.54,7.56],[13.68,6.73],[13.82,7.64],[13.96,7.46]];
const nr_T3Z5 = {
  123: [[3.05,1.68],[13.9,4.2],[3.4,1.1],[4.0,0.5],[5.6,2.1],[3.7,0.2],[4.6,1.8],[6.9,1.2]],
  125: [[4.33,1.35],[6.45,1.48],[7.51,1.0],[9.26,1.27],[9.71,1.61],[13.27,4.8],[12.7,4.1],[7.1,2.56],[3.3,1.9],[3.6,0.9],[4.9,1.1],[5.2,0.4],[3.9,1.6],[8.8,1.4]],
  126: [[7.57,1.35],[8.18,0.8],[5.24,1.41],[6.6,1.0],[11.45,2.97],[3.2,1.3],[4.2,2.0],[3.5,0.5],[4.7,0.3]],
  127: [[6.38,1.13],[5.24,1.2],[3.5,0.4],[10.1,3.58],[3.8,1.3],[4.4,0.6],[5.7,0.9],[3.15,0.9]],
  128: [[6.45,1.27],[3.73,1.41],[8.05,2.48],[4.1,0.8],[5.0,2.0],[3.3,0.3],[4.8,0.5],[5.5,1.6]],
};
const upper_T3Z5 = {
  123: [1.97,2.28,2.85,3.62,4.43,5.25], 125: [1.9,2.2,2.75,3.48,4.28,5.05], 126: [1.98,2.3,2.88,3.65,4.47,5.3],
  127: [1.95,2.25,2.8,3.55,4.35,5.15], 128: [1.93,2.22,2.78,3.52,4.32,5.1],
};
const lower_T3Z5 = {
  123: [-0.05,0.13,0.54,0.95,1.43,2.0], 125: [-0.1,0.1,0.5,0.9,1.38,1.95], 126: [-0.15,0.03,0.4,0.8,1.3,1.85],
  127: [-0.12,0.07,0.45,0.86,1.35,1.93], 128: [-0.22,0.0,0.33,0.68,1.2,1.75],
};

// ---------- T3Z6 ----------
const singles_T3Z6 = [[3.0,1.5],[3.08,2.2],[3.16,1.8],[3.24,2.5],[3.32,1.7],[3.4,2.3],[3.48,2.0],[3.56,2.7],[3.64,2.1],[3.72,2.5],[3.8,2.9],[3.9,2.3],[4.0,2.8],[4.1,2.5],[4.2,3.1],[4.3,2.6],[4.4,3.2],[4.5,2.8],[4.6,3.5],[4.7,3.0],[4.8,3.6],[4.9,3.1],[5.0,3.7],[5.1,3.2],[5.2,3.9],[5.3,3.4],[5.4,4.0],[5.5,3.5],[5.6,4.1],[5.7,3.7],[5.8,4.3],[5.9,3.8],[6.0,4.4],[6.1,3.9],[6.2,4.5],[6.3,4.0],[6.4,4.6],[6.5,4.1],[6.6,4.7],[6.7,4.2],[6.8,4.8],[6.9,4.3],[7.0,4.9],[7.1,4.4],[7.2,5.0],[7.3,4.5],[7.45,5.1],[7.6,4.6],[7.75,5.3],[7.9,4.8],[8.05,5.4],[8.2,4.9],[8.35,5.6],[8.5,5.1],[8.65,5.7],[8.8,5.2],[8.95,5.9],[9.1,5.4],[9.25,6.0],[9.4,5.6],[9.55,6.2],[9.7,5.7],[9.85,6.3],[10.0,5.9],[10.15,6.5],[10.3,6.0],[10.45,6.7],[10.6,6.2],[10.75,6.8],[10.9,6.4],[11.05,7.0],[11.2,6.5],[11.35,7.1],[11.5,6.7],[11.65,7.3],[11.8,6.9],[11.95,7.4],[12.1,7.0],[12.3,7.6],[12.5,7.2],[12.7,7.7],[12.9,7.3],[13.1,7.8],[13.3,7.5],[13.5,7.9],[13.7,7.6],[13.9,7.8],[4.75,0.12],[5.03,0.3],[4.45,0.0],[4.6,0.4],[6.03,0.05],[5.81,0.4],[6.41,0.39],[6.71,0.57],[7.01,0.15],[7.39,0.01],[7.61,0.4],[8.14,0.5],[8.37,0.6],[8.82,0.65],[9.43,0.39],[9.58,1.37],[10.15,0.01],[10.33,0.2],[10.45,0.46],[11.91,0.83],[11.91,0.39],[6.22,0.28],[5.3,0.2],[13.8,3.7],[12.8,5.1]];
const singles_T3Z6_b = [[3.02,2.38],[3.16,1.82],[3.29,2.4],[3.45,1.82],[3.58,2.86],[3.73,2.46],[3.87,2.86],[4.01,2.08],[4.15,2.95],[4.3,2.69],[4.44,3.53],[4.58,2.75],[4.72,3.2],[4.87,3.71],[5.01,2.87],[5.15,3.76],[5.3,3.49],[5.44,4.27],[5.58,3.43],[5.73,4.0],[5.87,3.45],[6.01,4.35],[6.16,3.9],[6.3,4.26],[6.44,3.79],[6.59,4.62],[6.73,4.23],[6.87,5.0],[7.02,3.92],[7.16,4.65],[7.3,5.05],[7.45,4.48],[7.59,5.05],[7.73,4.44],[7.88,5.48],[8.02,5.06],[8.16,5.43],[8.31,4.63],[8.45,5.47],[8.59,5.18],[8.74,5.99],[8.88,5.18],[9.02,5.61],[9.17,6.09],[9.31,5.22],[9.45,6.1],[9.6,5.81],[9.74,6.58],[9.88,5.72],[10.03,6.28],[10.17,5.72],[10.31,6.6],[10.46,6.15],[10.6,6.51],[10.74,6.04],[10.89,6.87],[11.03,6.48],[11.17,7.25],[11.32,6.17],[11.46,6.88],[11.6,7.27],[11.75,6.69],[11.89,7.25],[12.03,6.61],[12.18,7.6],[12.32,7.15],[12.46,7.49],[12.61,6.65],[12.75,7.47],[12.89,7.15],[13.04,7.93],[13.18,7.09],[13.32,7.7],[13.47,7.45],[13.61,7.95],[13.75,7.0],[13.9,7.72]];
const multiples_T3Z6 = [[3.04,1.9],[3.12,2.6],[3.2,1.6],[3.28,2.2],[3.36,2.8],[3.44,1.9],[3.52,2.4],[3.6,3.0],[3.7,2.2],[3.8,2.6],[3.9,3.1],[4.0,2.4],[4.1,2.9],[4.2,3.4],[4.3,2.7],[4.4,3.0],[4.5,3.6],[4.6,2.9],[4.7,3.3],[4.8,3.9],[4.9,3.2],[5.0,3.5],[5.1,4.1],[5.2,3.3],[5.3,3.8],[5.4,4.3],[5.5,3.6],[5.6,3.9],[5.7,4.5],[5.8,3.7],[5.9,4.1],[6.0,4.7],[6.15,3.8],[6.3,4.3],[6.45,4.9],[6.6,4.0],[6.75,4.5],[6.9,5.1],[7.05,4.2],[7.2,4.7],[7.35,5.3],[7.5,4.4],[7.65,4.9],[7.8,5.5],[7.95,4.6],[8.1,5.1],[8.25,5.7],[8.4,4.8],[8.55,5.3],[8.7,5.9],[8.85,5.0],[9.0,5.5],[9.15,6.2],[9.3,5.2],[9.45,5.8],[9.6,6.4],[9.75,5.4],[9.9,6.0],[10.05,6.6],[10.2,5.7],[10.35,6.3],[10.5,6.9],[10.65,6.0],[10.8,6.6],[10.95,7.2],[11.1,6.3],[11.25,6.9],[11.4,7.5],[11.55,6.5],[11.7,7.1],[11.85,7.7],[12.0,6.8],[12.2,7.3],[12.4,7.9],[12.6,7.0],[12.8,7.5],[13.0,7.1],[13.2,7.6],[13.4,7.2],[13.6,7.7],[13.8,7.3],[13.95,7.8],[13.19,0.39],[7.84,0.05],[5.88,0.73],[6.9,0.9],[9.0,1.0],[12.6,3.4],[13.3,4.0],[11.5,4.9],[4.2,1.1],[3.5,0.8]];
const multiples_T3Z6_b = [[3.09,1.9],[3.23,2.45],[3.37,1.65],[3.51,2.59],[3.65,2.41],[3.8,3.1],[3.94,2.25],[4.08,2.85],[4.22,3.17],[4.37,2.71],[4.51,3.69],[4.65,3.05],[4.8,3.69],[4.94,2.84],[5.08,3.59],[5.22,3.21],[5.37,4.09],[5.51,3.69],[5.65,4.03],[5.8,3.43],[5.94,4.34],[6.08,3.84],[6.23,4.7],[6.37,3.92],[6.51,4.44],[6.66,3.77],[6.8,4.8],[6.94,4.54],[7.09,4.19],[7.23,5.14],[7.37,4.56],[7.52,5.1],[7.66,4.29],[7.8,5.21],[7.95,5.02],[8.09,5.69],[8.23,4.81],[8.38,5.38],[8.52,5.68],[8.66,5.18],[8.81,6.14],[8.95,5.47],[9.09,6.08],[9.24,5.2],[9.38,5.93],[9.52,5.54],[9.67,6.41],[9.81,5.99],[9.95,6.32],[10.1,5.7],[10.24,6.6],[10.38,6.09],[10.53,6.95],[10.67,6.17],[10.81,6.69],[10.96,6.02],[11.1,7.05],[11.24,6.79],[11.39,6.44],[11.53,7.37],[11.67,6.78],[11.82,7.3],[11.96,6.47],[12.1,7.36],[12.25,7.13],[12.39,7.76],[12.53,6.85],[12.68,7.39],[12.82,7.67],[12.96,7.14],[13.11,7.93],[13.25,7.37],[13.39,7.95],[13.54,7.04],[13.68,7.74],[13.82,7.33],[13.96,7.95]];
const nr_T3Z6 = {
  123: [[5.28,0.87],[4.98,0.56],[3.32,1.07],[3.09,0.53],[3.8,0.9],[5.5,2.6],[12.1,2.5]],
  125: [[4.9,1.04],[4.52,1.14],[3.92,0.73],[3.24,0.39],[4.2,0.8],[5.0,2.0]],
  126: [[7.01,1.1],[7.99,1.38],[8.75,1.27],[4.52,0.99],[3.54,1.2],[3.62,0.46],[9.6,2.7],[7.1,2.3]],
  127: [[5.77,1.54],[3.4,0.6],[4.4,0.5],[8.8,3.4],[11.3,2.9],[3.9,1.5]],
  128: [[4.9,1.25],[6.11,0.96],[3.47,0.8],[4.22,1.0],[5.3,1.6],[6.4,2.2],[11.9,3.5],[6.9,1.6]],
};
const upper_T3Z6 = {
  123: [1.7,2.08,2.66,3.36,4.02,4.75], 125: [1.69,2.07,2.65,3.35,4.01,4.74], 126: [1.68,2.06,2.64,3.34,4.0,4.72],
  127: [1.72,2.1,2.68,3.38,4.05,4.78], 128: [1.66,2.04,2.62,3.32,3.98,4.7],
};
const lower_T3Z6 = {
  123: [0.12,0.34,0.72,1.26,1.8,2.5], 125: [0.1,0.32,0.7,1.24,1.78,2.47], 126: [0.08,0.3,0.68,1.22,1.76,2.45],
  127: [0.2,0.42,0.78,1.32,1.85,2.55], 128: [0.04,0.26,0.64,1.18,1.72,2.4],
};

const singlesByPanel = [singles_T1Z2, [...singles_T1Z5, ...singles_T1Z5_b], singles_T2Z3, [...singles_T2Z5, ...singles_T2Z5_b], singles_T3Z2, [...singles_T3Z4, ...singles_T3Z4_b], [...singles_T3Z5, ...singles_T3Z5_b], [...singles_T3Z6, ...singles_T3Z6_b]];
const multiplesByPanel = [multiples_T1Z2, [...multiples_T1Z5, ...multiples_T1Z5_b], multiples_T2Z3, [...multiples_T2Z5, ...multiples_T2Z5_b], multiples_T3Z2, [...multiples_T3Z4, ...multiples_T3Z4_b], [...multiples_T3Z5, ...multiples_T3Z5_b], [...multiples_T3Z6, ...multiples_T3Z6_b]];
const nrByPanel = [nr_T1Z2, nr_T1Z5, nr_T2Z3, nr_T2Z5, nr_T3Z2, nr_T3Z4, nr_T3Z5, nr_T3Z6];
const upperByPanel = [upper_T1Z2, upper_T1Z5, upper_T2Z3, upper_T2Z5, upper_T3Z2, upper_T3Z4, upper_T3Z5, upper_T3Z6];
const lowerByPanel = [lower_T1Z2, lower_T1Z5, lower_T2Z3, lower_T2Z5, lower_T3Z2, lower_T3Z4, lower_T3Z5, lower_T3Z6];

const legendLabels = ["Multiples", "Singles", ...runs.map((r) => `Run ${r} Nuclear Recoils`)];

// ---------- layout / style ----------
const FONT = "Liberation Serif, Times New Roman, serif";
const PLUS = "path://M0,4.3H10V5.7H0Z M4.3,0H5.7V10H4.3Z";
const gridLefts = [39, 288];
const gridWidths = [242, 243];
const gridTops = [40.5, 258.5, 477, 695];
const gridHeight = 208.5;
const Y_MIN = -0.45;
const Y_MAX = 8;
const FRAME = "#777777";

function buildOption() {
  const grid: any[] = [];
  const xAxis: any[] = [];
  const yAxis: any[] = [];
  const series: any[] = [];
  const graphic: any[] = [];
  const txt = { fontFamily: FONT, fontWeight: "bold", fontSize: 16, color: "#000" };

  panelNames.forEach((name, i) => {
    const row = Math.floor(i / 2);
    const col = i % 2;
    const left = gridLefts[col];
    const top = gridTops[row];
    grid.push({ left, top, width: gridWidths[col], height: gridHeight, show: true, borderColor: FRAME, borderWidth: 1.5, backgroundColor: "transparent" });
    const labelVals = col === 0 ? nrTicks.slice(0, 5) : nrTicks;
    const xi = xAxis.length;
    xAxis.push({
      gridIndex: i, type: "value", min: 3, max: 14, position: "bottom",
      axisLine: { show: false }, splitLine: { show: false },
      axisTick: { show: true, inside: true, length: 4, lineStyle: { color: FRAME }, customValues: nrTicks },
      axisLabel: { show: row === 3, customValues: labelVals, formatter: (v: number) => String(v), margin: 6, ...txt },
      name: row === 3 ? "Recoil Energy [keVnr]" : "", nameLocation: "middle", nameGap: 21, nameTextStyle: txt,
    });
    if (row === 0) {
      xAxis.push({
        gridIndex: i, type: "value", min: 3, max: 14, position: "top",
        axisLine: { show: false }, splitLine: { show: false },
        axisTick: { show: true, inside: true, length: 4, lineStyle: { color: FRAME }, customValues: nrTicks },
        axisLabel: {
          show: true, customValues: labelVals, margin: 1, ...txt,
          formatter: (v: number) => {
            const k = nrTicks.findIndex((t) => Math.abs(t - v) < 1e-6);
            return k >= 0 ? eeTickLabels[k] : "";
          },
        },
        name: "Recoil Energy [keVee]", nameLocation: "middle", nameGap: 22, nameTextStyle: txt,
      });
    }
    yAxis.push({
      gridIndex: i, type: "value", min: Y_MIN, max: Y_MAX,
      axisLine: { show: false }, splitLine: { show: false },
      axisTick: { show: true, inside: true, length: 4, lineStyle: { color: FRAME }, customValues: yTicks },
      axisLabel: { show: col === 0, customValues: yTicks, margin: 4, ...txt },
      name: col === 0 ? "Ionization Energy [keVee]" : "", nameLocation: "middle", nameGap: 18, nameRotate: 90, nameTextStyle: txt,
    });

    const base = { xAxisIndex: xi, yAxisIndex: i, animation: false, silent: true };
    thickGreenX.forEach((x) => series.push({ ...base, type: "line", data: [[x, Y_MIN], [x, Y_MAX]], symbol: "none", lineStyle: { color: "#00ee00", width: 5 }, z: 1 }));
    thinGreenX.forEach((x) => series.push({ ...base, type: "line", data: [[x, Y_MIN], [x, Y_MAX]], symbol: "none", lineStyle: { color: "#33ee33", width: 1.3 }, z: 1 }));
    series.push({ ...base, name: "Singles", type: "scatter", data: singlesByPanel[i], symbol: "circle", symbolSize: 5, itemStyle: { color: "#000" }, z: 2 });
    series.push({ ...base, name: "Multiples", type: "scatter", data: multiplesByPanel[i], symbol: PLUS, symbolSize: 8.5, itemStyle: { color: "#1a1a1a" }, z: 2 });
    const up = upperByPanel[i] as Record<string, number[]>;
    const lo = lowerByPanel[i] as Record<string, number[]>;
    Object.keys(up).forEach((rk) => {
      const color = runColors[runs.indexOf(Number(rk))];
      [up[rk], lo[rk]].forEach((vals) => {
        series.push({ ...base, type: "line", data: bandX.map((x, k) => [x, vals[k]]), smooth: 0.4, symbol: "none", lineStyle: { color, width: 2.5 }, z: 3 });
      });
    });
    const nr = nrByPanel[i] as Record<string, number[][]>;
    Object.keys(nr).forEach((rk) => {
      const color = runColors[runs.indexOf(Number(rk))];
      series.push({ ...base, name: `Run ${rk} Nuclear Recoils`, type: "scatter", data: nr[rk], symbol: "circle", symbolSize: 5.5, itemStyle: { color }, z: 4 });
    });

    graphic.push({ type: "text", x: left + 3.5, y: top + 12.5, z: 10, style: { text: name, fontFamily: FONT, fontWeight: "bold", fontSize: 16, fill: "#000", verticalAlign: "middle", align: "left" } });
  });

  const legendY = [325, 350.7, 376, 401.7, 427.3, 452.7, 478, 503];
  const iconX = 561.7;
  legendLabels.forEach((label, k) => {
    const cy = legendY[k];
    if (k === 0) {
      graphic.push({ type: "rect", shape: { x: iconX - 8.5, y: cy - 2, width: 17, height: 4 }, style: { fill: "#000" } });
      graphic.push({ type: "rect", shape: { x: iconX - 2, y: cy - 8.5, width: 4, height: 17 }, style: { fill: "#000" } });
    } else {
      const fill = k === 1 ? "#000" : runColors[k - 2];
      graphic.push({ type: "circle", shape: { cx: iconX, cy, r: 8 }, style: { fill, stroke: "#000", lineWidth: 2 } });
    }
    graphic.push({ type: "text", x: 583, y: cy, style: { text: label, fontFamily: FONT, fontWeight: "bold", fontSize: 16, fill: "#000", verticalAlign: "middle", align: "left" } });
  });

  return { animation: false, backgroundColor: "#ffffff", grid, xAxis, yAxis, series, graphic };
}

export default function App() {
  const ref = useRef<HTMLDivElement>(null);
  useEffect(() => {
    if (!ref.current) return;
    const chart = echarts.init(ref.current, undefined, { renderer: "svg" });
    chart.setOption(buildOption() as any);
    return () => chart.dispose();
  }, []);
  return <div ref={ref} style={{ position: "absolute", left: 0, top: 0, width: 761, height: 943 }} />;
}
